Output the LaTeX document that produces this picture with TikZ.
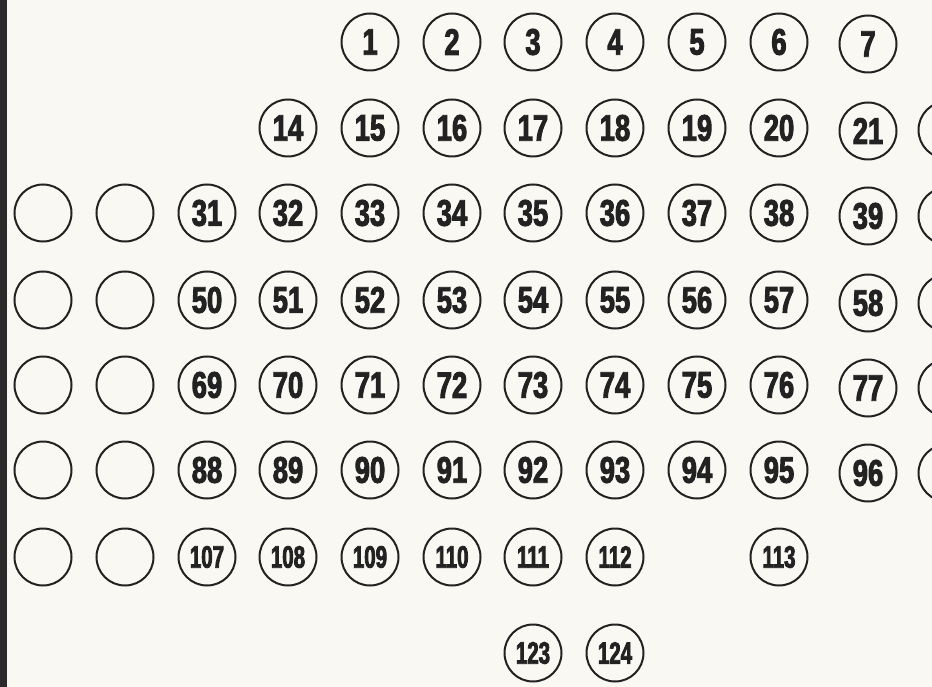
\documentclass[tikz,border=0pt]{standalone}
\usepackage{fontspec}
\newfontfamily\ballfont{Liberation Sans}[UprightFeatures={FakeStretch=0.74,FakeBold=2.5},BoldFeatures={FakeStretch=0.74,FakeBold=2.5}]
\newfontfamily\ballsmfont{Liberation Sans}[UprightFeatures={FakeStretch=0.66,FakeBold=2.5},BoldFeatures={FakeStretch=0.66,FakeBold=2.5}]
\definecolor{paper}{HTML}{FAF8F3}
\definecolor{ink}{HTML}{222222}
\definecolor{bar}{HTML}{2A2A2A}
\begin{document}
\begin{tikzpicture}[x=1pt,y=-1pt,
  ball/.style={circle,draw=ink,line width=2pt,minimum size=57pt,inner sep=0pt,
    text=ink,font=\ballfont\bfseries\fontsize{37}{37}\selectfont},
  ballsm/.style={ball,font=\ballsmfont\bfseries\fontsize{31}{31}\selectfont}]
\useasboundingbox (0,0) rectangle (932,687);
\fill[paper] (0,0) rectangle (932,687);
\fill[bar] (0,0) rectangle (7,687);
\clip (0,0) rectangle (932,687);
% row 1
\foreach \x/\t in {370/1,452/2,533/3,615/4,697/5,779/6}
  \node[ball] (n\t) at (\x,42) {\t};
\node[ball] (n7) at (868,44) {7};
% row 2
\foreach \x/\t in {288/14,370/15,452/16,533/17,615/18,697/19,779/20}
  \node[ball] (n\t) at (\x,128) {\t};
\node[ball] (n21) at (868,131) {\raisebox{-3pt}{21}};
\node[ball] (p2) at (947,130) {};
% rows 3-6
\foreach \r/\y/\s in {3/213/31,4/300/50,5/385/69,6/470/88}{
  \node[ball] (e\r a) at (43,\y) {};
  \node[ball] (e\r b) at (125,\y) {};
  \foreach \x [count=\i from 0] in {207,288,370,452,533,615,697,779}{
    \pgfmathtruncatemacro{\t}{\s+\i}
    \node[ball] (n\t) at (\x,\y) {\t};
  }
  \pgfmathtruncatemacro{\t}{\s+8}
  \node[ball] (n\t) at (868,\y+3) {\raisebox{-3pt}{\t}};
  \node[ball] (p\r) at (947,\y+3) {};
}
% row 7
\node[ball] (e7a) at (43,557) {};
\node[ball] (e7b) at (125,557) {};
\foreach \x/\t in {207/107,288/108,370/109,452/110,533/111,615/112,779/113}
  \node[ballsm] (n\t) at (\x,557) {\t};
% row 8
\node[ballsm] (n123) at (533,653) {123};
\node[ballsm] (n124) at (615,653) {124};
\end{tikzpicture}
\end{document}
